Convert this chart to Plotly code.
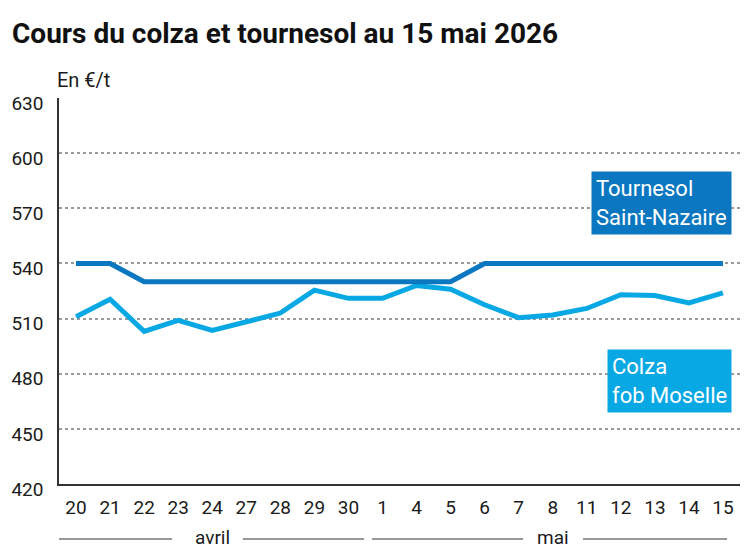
import plotly.graph_objects as go

days = ["20", "21", "22", "23", "24", "27", "28", "29", "30", "1",
        "4", "5", "6", "7", "8", "11", "12", "13", "14", "15"]
tournesol = [540, 540, 530, 530, 530, 530, 530, 530, 530, 530,
             530, 530, 540, 540, 540, 540, 540, 540, 540, 540]
colza = [511, 520.5, 503, 509, 503.5, 508.5, 513, 525.5, 521, 521,
         528, 526, 517.5, 510.5, 512, 515.5, 523, 522.5, 518.5, 524]
y_ticks = [420, 450, 480, 510, 540, 570, 600, 630]

DARK = "#0A77C0"
LIGHT = "#08A8E4"
FONT = "Roboto"
TXT = "#1a1a1a"

x = list(range(len(days)))

fig = go.Figure()
fig.add_trace(go.Scatter(x=x, y=colza, mode="lines",
                         line=dict(color=LIGHT, width=5), hoverinfo="skip"))
fig.add_trace(go.Scatter(x=x, y=tournesol, mode="lines",
                         line=dict(color=DARK, width=5), hoverinfo="skip"))

fig.update_layout(
    width=747, height=558,
    margin=dict(l=59, r=7, t=98, b=74),
    paper_bgcolor="white", plot_bgcolor="white",
    showlegend=False,
    font=dict(family=FONT, size=19, color=TXT),
    title=dict(text="Cours du colza et tournesol au 15 mai 2026",
               x=12 / 747, xanchor="left", xref="container",
               y=1 - 33 / 558, yanchor="middle", yref="container",
               font=dict(family=FONT, size=28, color="#111", weight="bold")),
    xaxis=dict(range=[-0.5, 19.5], tickvals=x, ticktext=days,
               showgrid=False, zeroline=False, showline=True,
               linecolor="#333", linewidth=1.5, ticks="",
               ticklabelstandoff=5, tickfont=dict(size=19, color=TXT),
               fixedrange=True),
    yaxis=dict(range=[420, 630], tickvals=y_ticks,
               showgrid=True, gridcolor="#9a9a9a", griddash="dot", gridwidth=1.5,
               zeroline=False, showline=True, linecolor="#333", linewidth=1.5,
               ticks="", ticklabelstandoff=10, ticklabelshift=5,
               tickfont=dict(size=19, color=TXT), fixedrange=True),
)

# unit label
fig.add_annotation(text="En €/t", xref="paper", yref="paper",
                   x=-4 / 681, y=(484 - 80) / 386, xanchor="left", yanchor="middle",
                   showarrow=False, font=dict(size=20, color=TXT))

# series labels
fig.add_annotation(text="Tournesol<br>Saint-Nazaire", xref="paper", yref="y",
                   x=(732 - 59) / 681, y=573, xanchor="right", yanchor="middle",
                   align="left", showarrow=False, bgcolor=DARK, borderpad=4,
                   font=dict(size=22, color="white"))
fig.add_annotation(text="Colza<br>fob Moselle", xref="paper", yref="y",
                   x=(732 - 59) / 681, y=476, xanchor="right", yanchor="middle",
                   align="left", showarrow=False, bgcolor=LIGHT, borderpad=4,
                   font=dict(size=22, color="white"))

# month labels with rules
month_y = (484 - 537) / 386
for label, center, segs in [
    ("avril", 4, [(-0.62, 2.82), (4.90, 8.46)]),
    ("mai", 14, [(8.69, 13.13), (14.89, 19.12)]),
]:
    fig.add_annotation(text=label, xref="x", yref="paper", x=center, y=month_y,
                       xanchor="center", yanchor="middle", showarrow=False,
                       font=dict(size=19, color=TXT))
    for a, b in segs:
        fig.add_shape(type="line", xref="x", yref="paper", x0=a, x1=b,
                      y0=(484 - 539) / 386, y1=(484 - 539) / 386,
                      line=dict(color="#333", width=1))

fig.write_html("out.html", config={"displayModeBar": False},
               post_script="document.body.style.margin='0';document.body.style.overflow='hidden';")
